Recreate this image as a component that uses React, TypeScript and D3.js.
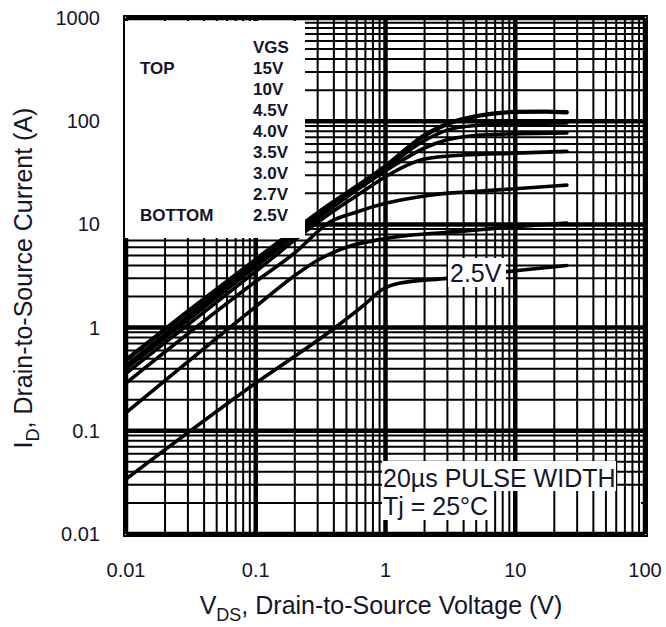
import React from "react";
import * as d3 from "d3";

const W = 666;
const H = 627;

const xTickValues = [0.01, 0.1, 1, 10, 100];
const xTickLabels = ["0.01", "0.1", "1", "10", "100"];
const yTickValues = [0.01, 0.1, 1, 10, 100, 1000];
const yTickLabels = ["0.01", "0.1", "1", "10", "100", "1000"];

const legendLabels = ["15V", "10V", "4.5V", "4.0V", "3.5V", "3.0V", "2.7V", "2.5V"];

// [VDS (V), ID (A)]
const curve15V: [number, number][] = [
  [0.01, 0.49], [0.03, 1.45], [0.1, 4.6], [0.3, 13], [1, 37], [2, 74], [3, 95], [5, 113], [10, 124], [17, 125], [25, 123],
];
const curve10V: [number, number][] = [
  [0.01, 0.48], [0.03, 1.42], [0.1, 4.5], [0.3, 12.8], [1, 36.5], [2, 72], [3, 93], [5, 111], [10, 122], [17, 123], [25, 121],
];
const curve4p5V: [number, number][] = [
  [0.01, 0.43], [0.1, 4.2], [0.3, 12], [1, 35], [2, 65], [3, 82], [5, 91], [10, 95], [25, 96],
];
const curve4p0V: [number, number][] = [
  [0.01, 0.4], [0.1, 3.9], [0.3, 11.5], [1, 33], [2, 55], [3, 66], [4.5, 72], [10, 75.5], [25, 77],
];
const curve3p5V: [number, number][] = [
  [0.01, 0.36], [0.1, 3.5], [0.3, 10.5], [0.6, 19], [1, 29], [1.5, 38], [2, 43], [4, 47], [10, 49], [25, 51],
];
const curve3p0V: [number, number][] = [
  [0.01, 0.29], [0.1, 2.8], [0.2, 5.3], [0.37, 10.5], [0.6, 13.2], [1, 16], [2.2, 19.2], [7, 21.5], [25, 24],
];
const curve2p7V: [number, number][] = [
  [0.01, 0.15], [0.1, 1.6], [0.2, 3.2], [0.3, 4.5], [0.5, 6.0], [1, 7.3], [4, 8.6], [10, 9.5], [25, 10.3],
];
const curve2p5V: [number, number][] = [
  [0.01, 0.034], [0.1, 0.29], [0.4, 0.98], [0.7, 1.7], [0.95, 2.35], [1.3, 2.7], [3, 3.0], [10, 3.55], [25, 4.0],
];

const curves = [curve15V, curve10V, curve4p5V, curve4p0V, curve3p5V, curve3p0V, curve2p7V, curve2p5V];

const FONT = "'Liberation Sans', Arial, Helvetica, sans-serif";
const INK = "#14142a";

export default function App() {
  const x = d3.scaleLog().domain([0.01, 100]).range([126, 645]);
  const y = d3.scaleLog().domain([0.01, 1000]).range([534, 18]);

  const xGrid: { v: number; major: boolean }[] = [];
  [0.01, 0.1, 1, 10].forEach((d) => {
    for (let k = 1; k <= 9; k++) xGrid.push({ v: d * k, major: k === 1 });
  });
  xGrid.push({ v: 100, major: true });
  const yGrid: { v: number; major: boolean }[] = [];
  [0.01, 0.1, 1, 10, 100].forEach((d) => {
    for (let k = 1; k <= 9; k++) yGrid.push({ v: d * k, major: k === 1 });
  });
  yGrid.push({ v: 1000, major: true });

  const line = d3
    .line<[number, number]>()
    .x((d) => x(d[0]))
    .y((d) => y(d[1]))
    .curve(d3.curveMonotoneX);

  const [x0, x1] = x.range();
  const [y1, y0] = y.range();

  return (
    <svg width={W} height={H} style={{ position: "absolute", left: 0, top: 0, background: "#fff" }}>
      <rect x={0} y={0} width={W} height={H} fill="#fff" />
      {/* horizontal grid */}
      {yGrid.map((g, i) => (
        <line key={"h" + i} x1={x0} x2={x1} y1={y(g.v)} y2={y(g.v)} stroke="#000" strokeWidth={g.major ? 4.5 : 2} />
      ))}
      {/* area below the annotation where only vertical lines show */}
      <rect x={488} y={491} width={641 - 488} height={529 - 491} fill="#fff" />
      {/* vertical grid */}
      {xGrid.map((g, i) => (
        <line key={"v" + i} x1={x(g.v)} x2={x(g.v)} y1={y0} y2={y1} stroke="#000" strokeWidth={g.major ? 4.5 : 2} />
      ))}
      {/* curves */}
      {curves.map((c, i) => (
        <path key={"c" + i} d={line(c) || ""} fill="none" stroke="#000" strokeWidth={3.6} strokeLinecap="round" strokeLinejoin="round" />
      ))}
      {/* white boxes */}
      <rect x={125} y={21} width={180} height={217} fill="#fff" />
      <rect x={382} y={461} width={234} height={30} fill="#fff" />
      <rect x={382} y={491} width={106} height={29} fill="#fff" />
      <rect x={448} y={258} width={58} height={29} fill="#fff" />
      {/* frame */}
      <rect x={124} y={16} width={647 - 124} height={536 - 16} fill="none" stroke="#000" strokeWidth={2} />

      {/* legend */}
      <g fontFamily={FONT} fontSize={17} fontWeight="bold" fill={INK}>
        <text x={253} y={53}>VGS</text>
        <text x={140} y={74}>TOP</text>
        <text x={140} y={221}>BOTTOM</text>
        {legendLabels.map((l, i) => (
          <text key={l} x={253} y={74 + i * 21}>{l}</text>
        ))}
      </g>

      {/* annotations */}
      <g fontFamily={FONT} fontSize={25} fill={INK}>
        <text x={383} y={487}>20µs PULSE WIDTH</text>
        <text x={383} y={515}>Tj = 25°C</text>
        <text x={450} y={282}>2.5V</text>
      </g>

      {/* tick labels */}
      <g fontFamily={FONT} fontSize={20} fill={INK}>
        {xTickValues.map((v, i) => (
          <text key={"xt" + i} x={x(v)} y={577} textAnchor="middle">{xTickLabels[i]}</text>
        ))}
        {yTickValues.map((v, i) => (
          <text key={"yt" + i} x={100} y={y(v) + 7} textAnchor="end">{yTickLabels[i]}</text>
        ))}
      </g>

      {/* axis titles */}
      <g fontFamily={FONT} fontSize={25} fill={INK}>
        <text x={381} y={614} textAnchor="middle">
          V<tspan fontSize={18} dy={7}>DS</tspan><tspan dy={-7}>, Drain-to-Source Voltage (V)</tspan>
        </text>
        <text transform="translate(32,278) rotate(-90)" textAnchor="middle">
          I<tspan fontSize={18} dy={7}>D</tspan><tspan dy={-7}>, Drain-to-Source Current (A)</tspan>
        </text>
      </g>
    </svg>
  );
}
